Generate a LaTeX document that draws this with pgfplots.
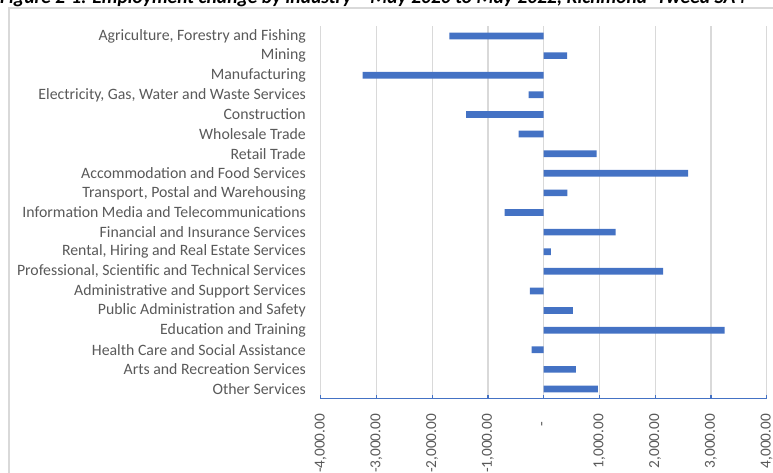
\documentclass[border=0pt]{standalone}
\usepackage{graphicx}
\usepackage{pgfplots}
\pgfplotsset{compat=1.18}
\usepackage{fontspec}
\setmainfont{Carlito}
\definecolor{barblue}{HTML}{4472C4}
\definecolor{gridgray}{HTML}{D9D9D9}
\definecolor{textgray}{HTML}{595959}
\begin{document}
\fontsize{15.8}{18}\selectfont
\begin{tikzpicture}[x=1pt,y=1pt]
\useasboundingbox (0,0) rectangle (773,473);
\draw[gridgray, line width=1.2pt] (9,-10) rectangle (785,465);
\node[anchor=base west, inner sep=0pt, text=black] at (0,469) {\resizebox{745pt}{!}{\bfseries\itshape Figure 2-1: Employment change by industry – May 2020 to May 2022, Richmond–Tweed SA4}};
\begin{axis}[
  at={(320.7pt,74.2pt)}, anchor=south west,
  width=446pt, height=372.6pt, scale only axis,
  xbar, bar width=6.7pt,
  xmin=-4000, xmax=4000,
  ymin=-0.5, ymax=18.5,
  xtick={-4000,-3000,...,4000},
  xticklabels={{-4,000.00},{-3,000.00},{-2,000.00},{-1,000.00},{-\kern8pt},{1,000.00},{2,000.00},{3,000.00},{4,000.00}},
  ytick={0,...,18},
  yticklabels={Other Services, Arts and Recreation Services, Health Care and Social Assistance, Education and Training, Public Administration and Safety, Administrative and Support Services, {Professional, Scientific and Technical Services}, {Rental, Hiring and Real Estate Services}, Financial and Insurance Services, Information Media and Telecommunications, {Transport, Postal and Warehousing}, Accommodation and Food Services, Retail Trade, Wholesale Trade, Construction, {Electricity, Gas, Water and Waste Services}, Manufacturing, Mining, {Agriculture, Forestry and Fishing}},
  xmajorgrids, major grid style={draw=gridgray, line width=1.3pt},
  axis x line*=bottom, axis y line*=left,
  x axis line style={draw=barblue, line width=1.3pt, -},
  y axis line style={draw=none},
  tick align=inside, major tick length=4pt,
  xtick style={draw=barblue, line width=1.3pt},
  ytick style={draw=none},
  every tick label/.append style={font=\fontsize{15.8}{18}\selectfont, text=textgray},
  xticklabel style={rotate=90, anchor=east, inner sep=0pt, font=\fontsize{15.3}{18}\selectfont},
  xticklabel shift=15pt,
  yticklabel style={anchor=east, inner sep=0pt},
  yticklabel shift=14.7pt,
]
\addplot[fill=barblue, draw=none] coordinates {
(970,0) (576,1) (-218,2) (3247,3) (522,4) (-247,5) (2143,6) (128,7) (1291,8) (-701,9)
(426,10) (2590,11) (950,12) (-450,13) (-1392,14) (-272,15) (-3247,16) (420,17) (-1690,18)};
\end{axis}
\end{tikzpicture}
\end{document}
